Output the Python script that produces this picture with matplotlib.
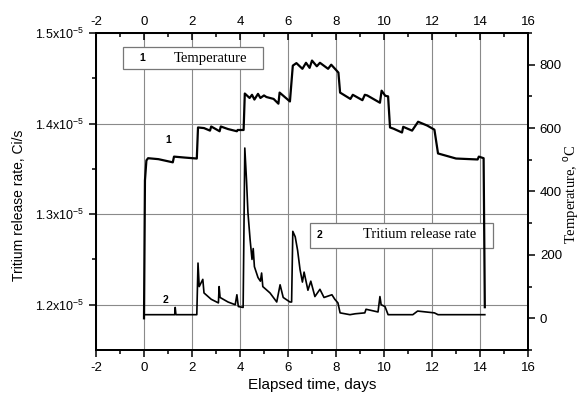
import matplotlib
matplotlib.use('Agg')
import matplotlib.pyplot as plt
from matplotlib.patches import Rectangle
from matplotlib.ticker import MultipleLocator, FixedLocator

# --- Data ---
# curve 1: temperature (right axis, deg C)
temp_days = [0.0, 0.04, 0.10, 0.17, 0.6, 1.2, 1.25, 1.7, 2.2, 2.25, 2.5, 2.75,
             2.8, 3.15, 3.2, 3.5, 3.87, 3.9, 4.15, 4.2, 4.4, 4.5, 4.6, 4.75,
             4.85, 5.0, 5.1, 5.4, 5.6, 5.65, 6.08, 6.2, 6.35, 6.6, 6.75, 6.9,
             7.0, 7.2, 7.33, 7.67, 7.8, 8.03, 8.1, 8.17, 8.6, 8.7, 9.1, 9.2,
             9.3, 9.83, 9.9, 10.05, 10.17, 10.25, 10.4, 10.75, 10.8, 11.17,
             11.42, 11.8, 12.1, 12.25, 13.0, 13.9, 13.95, 14.15, 14.2]
temp_vals = [0, 435, 498, 505, 502, 492, 510, 507, 504, 602, 600, 592,
             605, 590, 605, 597, 590, 594, 594, 709, 695, 705, 690, 708,
             695, 703, 698, 692, 677, 712, 684, 797, 805, 787, 806, 790,
             813, 795, 806, 787, 800, 781, 775, 712, 692, 705, 688, 705,
             703, 680, 718, 702, 700, 602, 598, 586, 604, 592,
             620, 608, 595, 520, 504, 501, 510, 505, 35]

# curve 2: tritium release rate (left axis, x1e-5 Ci/s)
rate_days = [0.0, 1.28, 1.3, 1.33, 2.2, 2.25, 2.3, 2.45, 2.5, 2.8, 3.1, 3.13,
             3.17, 3.5, 3.8, 3.87, 3.93, 4.13, 4.2, 4.27, 4.33, 4.42, 4.5,
             4.55, 4.6, 4.75, 4.85, 4.9, 4.95, 5.25, 5.53, 5.67, 5.8, 6.08,
             6.15, 6.2, 6.3, 6.4, 6.5, 6.6, 6.67, 6.83, 6.95, 7.12, 7.33, 7.5,
             7.83, 7.95, 8.08, 8.17, 8.58, 8.8, 9.2, 9.25, 9.75, 9.83, 9.88,
             10.04, 10.17, 11.2, 11.4, 12.1, 12.25, 14.2]
rate_vals = [1.189, 1.189, 1.197, 1.189, 1.189, 1.246, 1.220, 1.228, 1.213,
             1.206, 1.202, 1.220, 1.208, 1.203, 1.200, 1.211, 1.198, 1.197,
             1.373, 1.338, 1.302, 1.272, 1.250, 1.262, 1.242, 1.230, 1.226,
             1.235, 1.220, 1.213, 1.203, 1.222, 1.208, 1.203, 1.203, 1.281,
             1.275, 1.260, 1.239, 1.225, 1.236, 1.216, 1.226, 1.209, 1.217,
             1.208, 1.211, 1.206, 1.202, 1.191, 1.189, 1.190, 1.191, 1.195,
             1.192, 1.209, 1.200, 1.198, 1.189, 1.189, 1.193, 1.191, 1.189,
             1.189]

rate_ticks = [1.2, 1.3, 1.4, 1.5]
rate_ticklabels = ['1.2x10$^{-5}$', '1.3x10$^{-5}$', '1.4x10$^{-5}$', '1.5x10$^{-5}$']

# --- Style ---
plt.rcParams['font.family'] = 'Liberation Sans'
plt.rcParams['mathtext.fontset'] = 'custom'
plt.rcParams['mathtext.rm'] = 'Liberation Sans'
plt.rcParams['axes.unicode_minus'] = False
plt.rcParams['axes.linewidth'] = 1.3

fig = plt.figure(figsize=(5.85, 3.95), dpi=100)
ax = fig.add_axes([0.1641, 0.1139, 0.7385, 0.8026])
ax2 = ax.twinx()
ax3 = ax.twiny()

# --- bottom / left axis (tritium) ---
ax.set_xlim(-2, 16)
ax.set_ylim(1.15, 1.5)
ax.xaxis.set_major_locator(MultipleLocator(2))
ax.xaxis.set_minor_locator(MultipleLocator(1))
ax.yaxis.set_major_locator(FixedLocator(rate_ticks))
ax.yaxis.set_minor_locator(FixedLocator([1.25, 1.35, 1.45]))
ax.set_yticklabels(rate_ticklabels)
ax.tick_params(which='major', direction='out', length=5, width=1.1, labelsize=9.5)
ax.tick_params(axis='y', labelsize=9)
ax.tick_params(which='minor', direction='out', length=3, width=1.1)
ax.grid(True, which='major', color='#8a8a8a', lw=0.8)
ax.set_axisbelow(True)
ax.plot(rate_days, rate_vals, color='black', lw=1.2)
ax.set_xlabel('Elapsed time, days', fontsize=11, labelpad=3)
ax.set_ylabel('Tritium release rate, Ci/s', fontsize=10)
ax.yaxis.set_label_coords(-0.162, 0.457)

# --- right axis (temperature) ---
ax2.set_ylim(-100, 900)
ax2.yaxis.set_major_locator(MultipleLocator(200))
ax2.yaxis.set_minor_locator(MultipleLocator(100))
ax2.tick_params(which='major', direction='out', length=5, width=1.1, labelsize=9.5)
ax2.tick_params(which='minor', direction='out', length=3, width=1.1)
ax2.plot(temp_days, temp_vals, color='black', lw=1.6)
ax2.set_ylabel('Temperature, $^{\\mathrm{o}}$C', fontsize=10.5, family='Liberation Serif')
ax2.yaxis.set_label_coords(1.078, 0.49)

# --- top axis (same days) ---
ax3.set_xlim(-2, 16)
ax3.xaxis.set_major_locator(MultipleLocator(2))
ax3.xaxis.set_minor_locator(MultipleLocator(1))
ax3.tick_params(which='major', direction='in', length=5, width=1.1, labelsize=9.5)
ax3.tick_params(which='minor', direction='in', length=3, width=1.1)

# --- legend boxes ---
ax.add_patch(Rectangle((0.0625, 0.886), 0.324, 0.070, transform=ax.transAxes,
                       facecolor='white', edgecolor='#777777', lw=0.9, zorder=5))
ax.text(0.106, 0.921, '1', transform=ax.transAxes, fontsize=7.5, fontweight='bold',
        ha='center', va='center', zorder=6)
ax.text(0.264, 0.921, 'Temperature', transform=ax.transAxes, fontsize=10.5,
        family='Liberation Serif', ha='center', va='center', zorder=6)

ax.add_patch(Rectangle((0.495, 0.322), 0.424, 0.079, transform=ax.transAxes,
                       facecolor='white', edgecolor='#777777', lw=0.9, zorder=5))
ax.text(0.518, 0.363, '2', transform=ax.transAxes, fontsize=7.5, fontweight='bold',
        ha='center', va='center', zorder=6)
ax.text(0.75, 0.363, 'Tritium release rate', transform=ax.transAxes, fontsize=10.5,
        family='Liberation Serif', ha='center', va='center', zorder=6)

# curve labels
ax.text(0.167, 0.662, '1', transform=ax.transAxes, fontsize=7.5, fontweight='bold',
        ha='center', va='center')
ax.text(0.162, 0.158, '2', transform=ax.transAxes, fontsize=7.5, fontweight='bold',
        ha='center', va='center')

fig.savefig('out.png', dpi=100)
